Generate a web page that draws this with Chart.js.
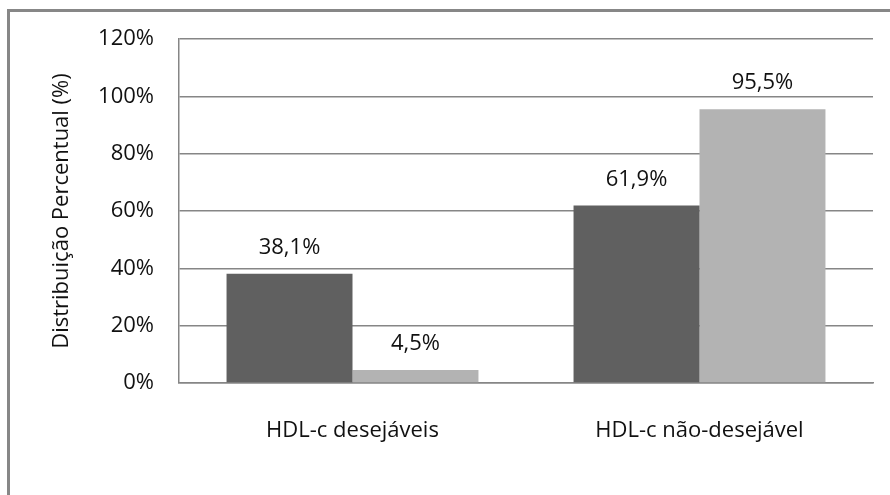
<!DOCTYPE html>
<html>
<head>
<meta charset="utf-8">
<script src="https://cdn.jsdelivr.net/npm/chart.js@4"></script>
<style>
  html, body { margin: 0; padding: 0; background: #fff; overflow: hidden; }
  #wrap { position: relative; width: 890px; height: 495px; }
  #frame {
    position: absolute; left: 7px; top: 9px; width: 1000px; height: 1000px;
    border-top: 3px solid #878787; border-left: 3px solid #878787;
    box-sizing: border-box;
  }
  canvas { position: absolute; left: 0; top: 0; }
</style>
</head>
<body>
<div id="wrap">
  <div id="frame"></div>
  <canvas id="myChart" width="890" height="495"></canvas>
</div>
<script>
const categories = ['HDL-c desejáveis', 'HDL-c não-desejável'];
const darkValues = [38.1, 61.9];
const lightValues = [4.5, 95.5];
const yTicks = [0, 20, 40, 60, 80, 100, 120];

const fontFamily = "'Open Sans', 'Noto Sans', sans-serif";
const gridColor = '#868686';

// value labels above each bar, pt-BR decimal comma
const barLabels = {
  id: 'barLabels',
  afterDatasetsDraw(chart) {
    const ctx = chart.ctx;
    ctx.save();
    ctx.font = '22px ' + fontFamily;
    ctx.fillStyle = '#111';
    ctx.textAlign = 'center';
    ctx.textBaseline = 'middle';
    chart.data.datasets.forEach((ds, i) => {
      chart.getDatasetMeta(i).data.forEach((bar, j) => {
        const txt = ds.data[j].toFixed(1).replace('.', ',') + '%';
        ctx.fillText(txt, bar.x, bar.y - 26);
      });
    });
    ctx.restore();
  }
};

const data = {
  labels: categories,
  datasets: [{
    data: darkValues,
    backgroundColor: '#606060',
    barPercentage: 1,
    categoryPercentage: 0.726
  }, {
    data: lightValues,
    backgroundColor: '#b3b3b3',
    barPercentage: 1,
    categoryPercentage: 0.726
  }]
};

const config = {
  type: 'bar',
  data,
  options: {
    responsive: false,
    animation: false,
    layout: {
      padding: { left: 0, top: 39, right: 17, bottom: 0 }
    },
    scales: {
      x: {
        afterFit: (scale) => { scale.height = 112; },
        grid: { display: false },
        border: { display: true, color: gridColor, width: 1.5 },
        ticks: {
          padding: 27,
          color: '#111',
          font: { family: fontFamily, size: 22 }
        }
      },
      y: {
        min: 0,
        max: 120,
        afterFit: (scale) => { scale.width = 179; },
        afterBuildTicks: (scale) => {
          scale.ticks = yTicks.map(v => ({ value: v }));
        },
        grid: { color: gridColor, lineWidth: 1.5, drawTicks: false },
        border: { display: true, color: gridColor, width: 1.5 },
        ticks: {
          padding: 25,
          color: '#111',
          font: { family: fontFamily, size: 22 },
          callback: (v) => v + '%'
        },
        title: {
          display: true,
          text: 'Distribuição Percentual (%)',
          color: '#111',
          font: { family: fontFamily, size: 22 },
          padding: { top: 49, bottom: 0 }
        }
      }
    },
    plugins: {
      legend: { display: false },
      tooltip: { enabled: false }
    }
  },
  plugins: [barLabels]
};

const myChart = new Chart(document.getElementById('myChart'), config);
</script>
</body>
</html>
